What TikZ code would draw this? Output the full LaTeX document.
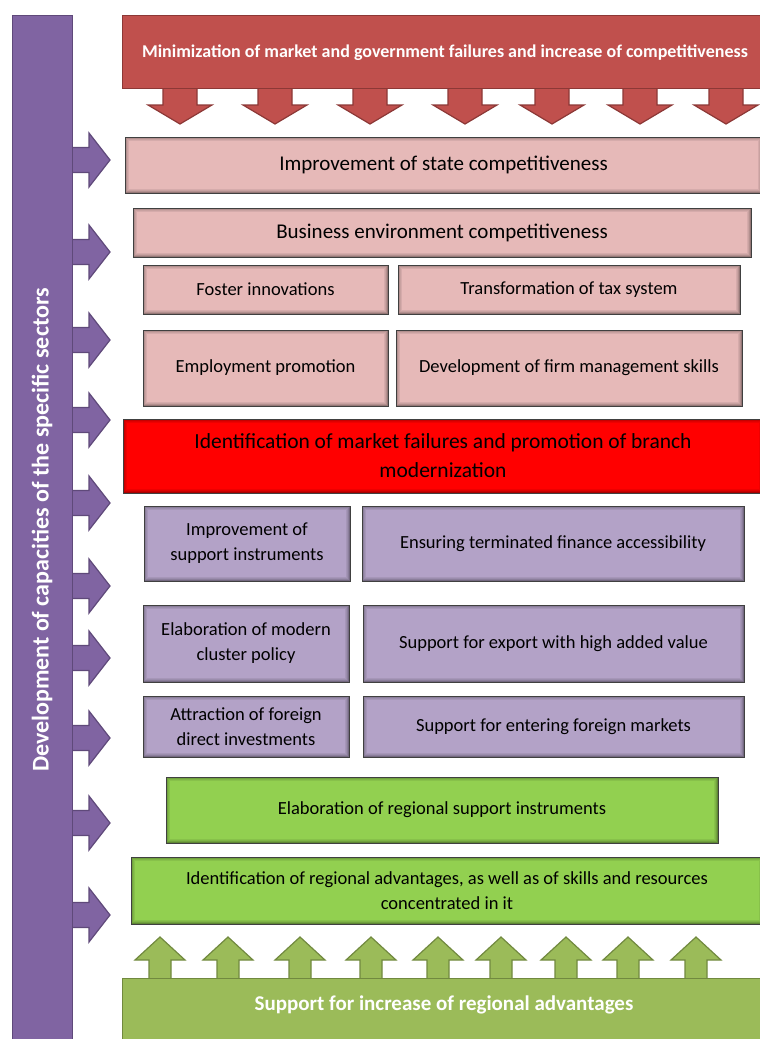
\documentclass[tikz,border=0pt]{standalone}
\usepackage{fontspec}
\setmainfont{Carlito}
\definecolor{redtop}{HTML}{C0504D}
\definecolor{rededge}{HTML}{8C3836}
\definecolor{pinkbox}{HTML}{E6B9B8}
\definecolor{brightred}{HTML}{FF0000}
\definecolor{lilac}{HTML}{B3A2C7}
\definecolor{violet}{HTML}{8064A2}
\definecolor{violetedge}{HTML}{5F497A}
\definecolor{lime}{HTML}{92D050}
\definecolor{olive}{HTML}{9BBB59}
\definecolor{oliveedge}{HTML}{71893F}
\begin{document}
\begin{tikzpicture}[x=1pt,y=-1pt,
  innershade/.style={path picture={
    \foreach \d/\o in {0.6/0.35,1.6/0.22,2.6/0.13,3.6/0.07}{
      \draw[black,opacity=\o,line width=1pt]
        ([shift={(\d pt,-\d pt)}]path picture bounding box.north west) rectangle
        ([shift={(-\d pt,\d pt)}]path picture bounding box.south east);
    }}},
  box/.style={draw=black!75,line width=0.8pt,inner sep=2pt,align=center,
    innershade,font=\fontsize{18.5}{25}\selectfont},
  pinkb/.style={box,fill=pinkbox},
  lilacb/.style={box,fill=lilac},
  limeb/.style={box,fill=lime},
  downarrow/.style={fill=redtop,draw=rededge,line width=1.2pt,line join=miter},
  rightarrow/.style={fill=violet,draw=violetedge,line width=1.2pt},
  uparrow/.style={fill=olive,draw=oliveedge,line width=1.2pt},
  boldwhite/.style={text=white,font=\bfseries\fontsize{#1}{#1}\selectfont}
]
\useasboundingbox (0,0) rectangle (760,1039);

% arrows from the side bar into the rows
\foreach \c in {160,252,340,420,503,586,658,738,823,915}{
  \draw[rightarrow] (70,\c-12.5) -- (89,\c-12.5) -- (89,\c-27) -- (110,\c)
    -- (89,\c+27) -- (89,\c+12.5) -- (70,\c+12.5);
}
% side bar
\node[fill=violet,draw=violetedge,line width=1pt,minimum width=60pt,
  minimum height=1030pt,inner sep=0pt] (bar) at (42,530) {};
\node[boldwhite=24,rotate=90] (bartext) at (bar.center)
  {Development of capacities of the specific sectors};

% arrows down from the goal box
\foreach \c in {180,275,370,465,552,640,726}{
  \draw[downarrow] (\c-17,86) -- (\c-17,105) -- (\c-32,105) -- (\c,124)
    -- (\c+32,105) -- (\c+17,105) -- (\c+17,86);
}
\node[fill=redtop,draw=rededge,line width=1pt,minimum width=640pt,
  minimum height=73pt,inner sep=0pt,anchor=north west] (goal) at (122,15) {};
\node[boldwhite=18] (goaltext) at (445,52.5)
  {Minimization of market and government failures and increase of competitiveness};

% pink block
\node[pinkb,minimum width=637pt,minimum height=56pt,font=\fontsize{21}{25}\selectfont]
  (state) at (443.5,165) {Improvement of state competitiveness};
\node[pinkb,minimum width=618pt,minimum height=49pt,font=\fontsize{21}{25}\selectfont]
  (business) at (442,232.5) {Business environment competitiveness};
\node[pinkb,minimum width=245pt,minimum height=49pt] (foster) at (265.5,289.5)
  {Foster innovations};
\node[pinkb,minimum width=342pt,minimum height=49pt] (tax) at (569,289.5)
  {Transformation of tax system};
\node[pinkb,minimum width=245pt,minimum height=76pt] (employ) at (265.5,368)
  {\raisebox{-3pt}{Employment promotion}};
\node[pinkb,minimum width=346pt,minimum height=76pt] (firm) at (569,368)
  {\raisebox{-3pt}{Development of firm management skills}};

% red block
\node[box,fill=brightred,minimum width=640pt,minimum height=74pt,
  font=\fontsize{21.5}{29}\selectfont] (branch) at (443,456)
  {Identification of market failures and promotion of branch\\modernization};

% lilac block
\node[lilacb,minimum width=206pt,minimum height=75pt] (instr) at (247,543.5)
  {Improvement of\\support instruments};
\node[lilacb,minimum width=382pt,minimum height=75pt] (finance) at (553,543.5)
  {Ensuring terminated finance accessibility};
\node[lilacb,minimum width=206pt,minimum height=77pt] (cluster) at (246,643.5)
  {Elaboration of modern\\cluster policy};
\node[lilacb,minimum width=381pt,minimum height=77pt] (export) at (553.5,643.5)
  {Support for export with high added value};
\node[lilacb,minimum width=206pt,minimum height=61pt] (fdi) at (246,726.5)
  {Attraction of foreign\\direct investments};
\node[lilacb,minimum width=381pt,minimum height=61pt] (markets) at (553.5,726.5)
  {Support for entering foreign markets};

% green block
\node[limeb,minimum width=552pt,minimum height=66pt] (regional) at (442,810)
  {Elaboration of regional support instruments};
\node[limeb,minimum width=632pt,minimum height=67pt] (advant) at (447,890.5)
  {Identification of regional advantages, as well as of skills and resources\\concentrated in it};

% arrows up from the base box
\foreach \c in {160,228,300,371,438,501,566,628,696}{
  \draw[uparrow] (\c-11,980) -- (\c-11,960) -- (\c-25,960) -- (\c,937)
    -- (\c+25,960) -- (\c+11,960) -- (\c+11,980);
}
\node[fill=olive,draw=oliveedge,line width=1pt,minimum width=642pt,
  minimum height=70pt,inner sep=0pt,anchor=north west] (base) at (122,978) {};
\node[boldwhite=21] (basetext) at (444,1005)
  {Support for increase of regional advantages};
\end{tikzpicture}
\end{document}
